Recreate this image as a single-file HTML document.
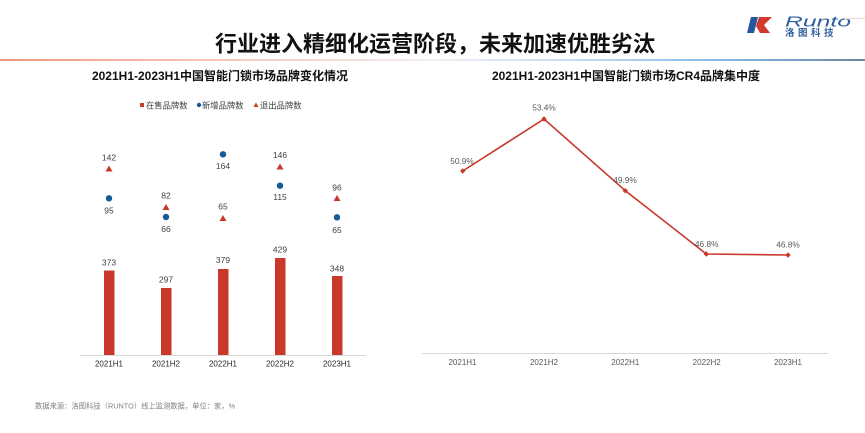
<!DOCTYPE html>
<html>
<head>
<meta charset="utf-8">
<style>
  html,body{margin:0;padding:0;background:#fff;}
  body{width:865px;height:433px;overflow:hidden;}
  svg{display:block;}
  text{font-family:"Liberation Sans","Noto Sans CJK SC",sans-serif;}
</style>
</head>
<body>
<svg width="865" height="433" viewBox="0 0 865 433" xmlns="http://www.w3.org/2000/svg">
  <defs>
    <linearGradient id="hdr" x1="0" y1="0" x2="1" y2="0">
      <stop offset="0" stop-color="#f1977e"/>
      <stop offset="0.28" stop-color="#f7cbbf"/>
      <stop offset="0.5" stop-color="#f2eef2"/>
      <stop offset="0.66" stop-color="#c7def3"/>
      <stop offset="0.82" stop-color="#88bce9"/>
      <stop offset="1" stop-color="#6b88a4"/>
    </linearGradient>
  </defs>
  <rect width="865" height="433" fill="#ffffff"/>

  <!-- Main title -->
  <text x="435" y="44" font-size="22" font-weight="bold" fill="#111" text-anchor="middle" dominant-baseline="central">行业进入精细化运营阶段，未来加速优胜劣汰</text>
  <rect x="0" y="59" width="865" height="2" fill="url(#hdr)"/>

  <!-- Logo -->
  <g>
    <polygon points="751,17 758,17 754,33 747,33" fill="#24589a"/>
    <polygon points="759,17 772,17 764,25 770,33 760,33 756,26" fill="#d0392b"/>
    <text x="785" y="26.5" font-size="15" font-style="italic" fill="#2f5f9f" textLength="66" lengthAdjust="spacingAndGlyphs">Runto</text>
    <line x1="845" y1="19" x2="865" y2="18" stroke="#ecd3ce" stroke-width="1"/>
    <text x="785" y="33.5" font-size="9.5" font-weight="bold" fill="#2f5f9f" dominant-baseline="central" letter-spacing="3.5">洛图科技</text>
  </g>

  <!-- Left chart title -->
  <text x="220" y="76" font-size="12" font-weight="bold" fill="#111" text-anchor="middle" dominant-baseline="central">2021H1-2023H1中国智能门锁市场品牌变化情况</text>

  <!-- Legend -->
  <rect x="140" y="103" width="4" height="4" fill="#c8382b"/>
  <text x="146" y="105.5" font-size="8.3" fill="#404040" dominant-baseline="central">在售品牌数</text>
  <circle cx="199" cy="105" r="2.2" fill="#185a98"/>
  <text x="202" y="105.5" font-size="8.3" fill="#404040" dominant-baseline="central">新增品牌数</text>
  <polygon points="256,102.5 258.5,107 253.5,107" fill="#c8382b"/>
  <text x="260" y="105.5" font-size="8.3" fill="#404040" dominant-baseline="central">退出品牌数</text>

  <!-- Bars -->
  <g fill="#c8382b">
    <rect x="104" y="270.5" width="10.5" height="84.5"/>
    <rect x="161" y="288" width="10.5" height="67"/>
    <rect x="218" y="269" width="10.5" height="86"/>
    <rect x="275" y="258" width="10.5" height="97"/>
    <rect x="332" y="276" width="10.5" height="79"/>
  </g>
  <line x1="80" y1="355.5" x2="366" y2="355.5" stroke="#d9d9d9" stroke-width="1"/>

  <g font-size="8.5" fill="#404040" text-anchor="middle" dominant-baseline="central">
    <text x="109" y="262.7">373</text>
    <text x="166" y="279.3">297</text>
    <text x="223" y="260">379</text>
    <text x="280" y="249.3">429</text>
    <text x="337" y="268.3">348</text>
  </g>

  <!-- New brands (blue dots) -->
  <g fill="#185a98">
    <circle cx="109" cy="198.3" r="3.2"/>
    <circle cx="166" cy="217" r="3.2"/>
    <circle cx="223" cy="154.3" r="3.2"/>
    <circle cx="280" cy="185.7" r="3.2"/>
    <circle cx="337" cy="217.3" r="3.2"/>
  </g>
  <g font-size="8.5" fill="#404040" text-anchor="middle" dominant-baseline="central">
    <text x="109" y="210.7">95</text>
    <text x="166" y="229">66</text>
    <text x="223" y="166">164</text>
    <text x="280" y="197">115</text>
    <text x="337" y="230">65</text>
  </g>

  <!-- Exit brands (red triangles) -->
  <g fill="#c8382b">
    <polygon points="109,165.5 112.5,171.5 105.5,171.5"/>
    <polygon points="166,204 169.5,210 162.5,210"/>
    <polygon points="223,215 226.5,221 219.5,221"/>
    <polygon points="280,163.5 283.5,169.5 276.5,169.5"/>
    <polygon points="337,195 340.5,201 333.5,201"/>
  </g>
  <g font-size="8.5" fill="#404040" text-anchor="middle" dominant-baseline="central">
    <text x="109" y="157.7">142</text>
    <text x="166" y="195.7">82</text>
    <text x="223" y="206.7">65</text>
    <text x="280" y="155">146</text>
    <text x="337" y="187.3">96</text>
  </g>

  <!-- Left x labels -->
  <g font-size="8" fill="#262626" text-anchor="middle" dominant-baseline="central">
    <text x="109" y="364">2021H1</text>
    <text x="166" y="364">2021H2</text>
    <text x="223" y="364">2022H1</text>
    <text x="280" y="364">2022H2</text>
    <text x="337" y="364">2023H1</text>
  </g>

  <!-- Right chart title -->
  <text x="626" y="76" font-size="12" font-weight="bold" fill="#111" text-anchor="middle" dominant-baseline="central">2021H1-2023H1中国智能门锁市场CR4品牌集中度</text>

  <!-- Right chart line -->
  <line x1="422" y1="353.5" x2="828" y2="353.5" stroke="#d9d9d9" stroke-width="1"/>
  <polyline points="462.7,171 544,119 625.3,190.7 706.3,254 788,255" fill="none" stroke="#c8382b" stroke-width="1.6" stroke-linejoin="round"/>
  <g fill="#c8382b">
    <polygon points="462.7,168.3 465.4,171 462.7,173.7 460,171"/>
    <polygon points="544,116.3 546.7,119 544,121.7 541.3,119"/>
    <polygon points="625.3,188 628,190.7 625.3,193.4 622.6,190.7"/>
    <polygon points="706.3,251.3 709,254 706.3,256.7 703.6,254"/>
    <polygon points="788,252.3 790.7,255 788,257.7 785.3,255"/>
  </g>
  <g font-size="8.3" fill="#595959" text-anchor="middle" dominant-baseline="central">
    <text x="462" y="161">50.9%</text>
    <text x="544" y="107.3">53.4%</text>
    <text x="625" y="180">49.9%</text>
    <text x="706.7" y="244">46.8%</text>
    <text x="788" y="244.3">46.8%</text>
  </g>
  <g font-size="8" fill="#595959" text-anchor="middle" dominant-baseline="central">
    <text x="462.5" y="362.7">2021H1</text>
    <text x="544" y="362.7">2021H2</text>
    <text x="625.3" y="362.7">2022H1</text>
    <text x="706.7" y="362.7">2022H2</text>
    <text x="788" y="362.7">2023H1</text>
  </g>

  <!-- Source -->
  <text x="35" y="406" font-size="7.3" fill="#808080" dominant-baseline="central">数据来源：洛图科技（RUNTO）线上监测数据，单位：家，%</text>
</svg>
</body>
</html>
